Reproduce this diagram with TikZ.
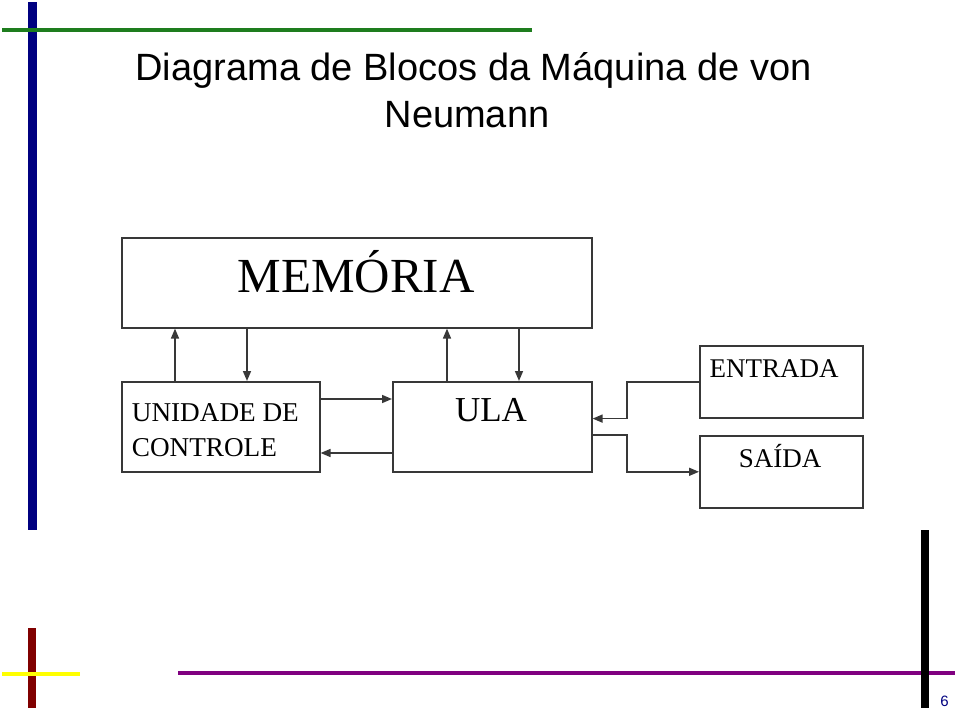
\documentclass[tikz,border=0pt]{standalone}
\usepackage{fontspec}
\setmainfont{Liberation Serif}
\newfontfamily\arialf{Liberation Sans}
\usetikzlibrary{arrows.meta}
\definecolor{lineclr}{HTML}{383838}
\definecolor{navybar}{HTML}{000080}
\definecolor{greenbar}{HTML}{1E7D1E}
\definecolor{redbar}{HTML}{800000}
\definecolor{yellowbar}{HTML}{FFFF00}
\definecolor{purplebar}{HTML}{800080}
\begin{document}
\begin{tikzpicture}[x=1pt,y=-1pt,
  blockbox/.style={draw=lineclr, line width=1.6pt, inner sep=0pt, anchor=north west},
  conn/.style={draw=lineclr, line width=1.6pt, -{Triangle[length=10pt,width=8pt]}},
  titletext/.style={font=\arialf\fontsize{38}{44}\selectfont, anchor=base, inner sep=0pt},
  boxtext/.style={inner sep=0pt, anchor=base}]
\useasboundingbox (0,0) rectangle (960,712);
% decorative bars
\fill[navybar] (28,2) rectangle (37,530);
\fill[greenbar] (2,28) rectangle (532,32);
\fill[redbar] (28,628) rectangle (36,708);
\fill[yellowbar] (2,672) rectangle (80,676);
\fill[purplebar] (178,671) rectangle (955,675);
\fill[black] (921,530) rectangle (929,708);
\node[font=\arialf\fontsize{15}{18}\selectfont, text=navybar, anchor=base, inner sep=0pt] (pg) at (944.5,706) {6};
% title
\node[titletext] (t1) at (473.5,80) {Diagrama de Blocos da Máquina de von};
\node[titletext] (t2) at (467,127) {Neumann};
% boxes
\node[blockbox, minimum width=470pt, minimum height=90pt] (mem) at (121,237) {};
\node[blockbox, minimum width=198pt, minimum height=90pt] (uc) at (121,381) {};
\node[blockbox, minimum width=199pt, minimum height=90pt] (ula) at (392,381) {};
\node[blockbox, minimum width=163pt, minimum height=72pt] (ent) at (699,345) {};
\node[blockbox, minimum width=163pt, minimum height=72pt] (sai) at (699,435) {};
% texts
\node[boxtext, font=\fontsize{49}{55}\selectfont] (memt) at (356,292) {MEMÓRIA};
\node[boxtext, font=\fontsize{35}{40}\selectfont] (ulat) at (491,421.7) {ULA};
\node[boxtext, anchor=base west, font=\fontsize{27.2}{32}\selectfont] (uct1) at (131.7,421.7) {UNIDADE DE};
\node[boxtext, anchor=base west, font=\fontsize{27.2}{32}\selectfont] (uct2) at (131.7,456.7) {CONTROLE};
\node[boxtext, font=\fontsize{27}{32}\selectfont] (entt) at (774,377) {ENTRADA};
\node[boxtext, font=\fontsize{27}{32}\selectfont] (sait) at (780,467.3) {SAÍDA};
% helper coordinates
\coordinate (xa) at (175,0);
\coordinate (xb) at (247,0);
\coordinate (xc) at (447,0);
\coordinate (xd) at (519,0);
\coordinate (ya) at (0,399);
\coordinate (yb) at (0,453);
\coordinate (bx) at (627,0);
% connectors
\draw[conn] (xa |- uc.north) -- (xa |- mem.south);
\draw[conn] (xb |- mem.south) -- (xb |- uc.north);
\draw[conn] (xc |- ula.north) -- (xc |- mem.south);
\draw[conn] (xd |- mem.south) -- (xd |- ula.north);
\draw[conn] (uc.east |- ya) -- (ula.west |- ya);
\draw[conn] (ula.west |- yb) -- (uc.east |- yb);
\draw[conn] (ent.west) -| (bx |- ent.south) -- (ula.east |- ent.south);
\draw[conn] (ula.east |- sai.north) -| (bx |- sai.west) -- (sai.west);
\end{tikzpicture}
\end{document}
